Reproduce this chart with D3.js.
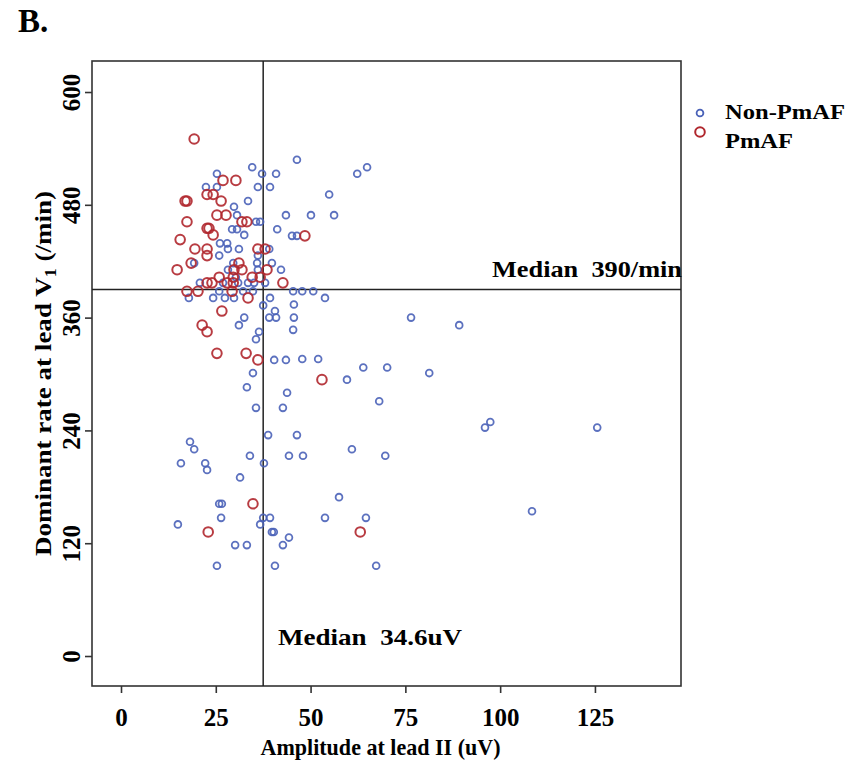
<!DOCTYPE html>
<meta charset="utf-8">
<style>
body { margin: 0; background: #fff; }
text { font-family: "Liberation Serif", "Times New Roman", serif; font-weight: bold; fill: #000; }
.frame { fill: none; stroke: #333; stroke-width: 1.6px; }
.median { stroke: #222; stroke-width: 1.5px; }
</style>
<svg width="866" height="761"></svg>
<script src="https://cdnjs.cloudflare.com/ajax/libs/d3/7.8.5/d3.min.js"></script>
<script>

// Non-PmAF: [amplitude uV, dominant rate /min]
var nonPmAF = [
  [46.4,528],[34.6,520],[64.9,520],[37.2,513],[40.9,513],[25.3,513],[62.3,513],
  [36.1,499],[39.3,499],[22.4,499],[25.3,499],[54.9,491],[33.5,484],[29.8,478],
  [30.6,469],[43.5,469],[50.1,469],[56.2,469],[35.6,462],[36.7,462],
  [29.3,454],[30.6,454],[41.2,454],[32.5,448],[45.1,447],[46.4,447],
  [26.1,439],[28.0,439],[28.2,433],[31.1,433],[39.1,433],[25.9,426],[36.1,426],
  [19.3,418],[29.6,418],[39.8,418],[35.9,418],[28.2,411],[42.2,411],[36.1,411],
  [20.8,397],[30.3,403],[26.9,397],[30.9,397],[33.5,397],[35.1,397],[38.0,397],
  [17.9,381],[24.3,381],[25.9,388],[27.4,381],[29.8,381],[32.2,388],[34.8,388],
  [39.3,381],[45.4,388],[47.8,388],[50.7,388],[53.8,381],
  [37.5,373],[45.6,374],[40.6,367],[39.1,360],[40.9,360],[32.5,360],[45.6,360],
  [76.5,360],[31.1,352],[89.2,352],[45.4,347],[36.4,345],[35.6,337],
  [40.4,315],[43.5,315],[47.8,316],[52.0,316],[63.9,307],[70.2,307],[34.8,301],
  [81.3,301],[59.6,294],[33.2,286],[43.8,280],[68.1,271],[35.6,264],[42.7,264],
  [97.4,249],[96.0,243],[125.6,243],[38.8,235],[46.4,235],[18.2,228],[19.3,220],
  [60.9,220],[34.0,213],[44.3,213],[48.0,213],[69.7,213],[15.8,205],[22.2,205],
  [37.7,205],[22.7,198],[31.4,190],[57.5,169],[25.9,162],[26.6,162],[108.4,154],
  [26.4,147],[37.5,147],[39.3,147],[53.8,147],[64.6,147],[15.0,140],[36.7,140],
  [39.8,132],[40.3,132],[44.3,126],[30.1,118],[33.2,118],[42.7,118],
  [25.3,96],[40.6,96],[67.3,96]
];

// PmAF
var pmAF = [
  [19.3,550],[26.9,506],[30.3,506],[22.7,491],[24.3,491],[17.4,484],[16.9,484],
  [26.4,484],[25.3,469],[27.7,469],[17.4,462],[31.9,462],[33.2,462],[22.7,455],
  [23.2,455],[24.3,448],[48.5,447],[15.6,443],[19.5,433],[22.7,433],[36.1,433],
  [38.0,433],[22.7,426],[18.5,418],[31.1,418],[14.8,411],[29.8,411],[31.9,411],
  [38.5,411],[25.9,403],[29.6,403],[34.6,403],[36.7,403],[22.7,397],[24.0,397],
  [28.0,397],[29.6,397],[42.7,397],[17.4,388],[20.3,388],[29.3,388],[33.5,381],
  [26.6,367],[21.4,352],[22.7,345],[25.3,322],[33.0,322],[36.1,315],[53.0,294],
  [34.8,162],[23.0,132],[63.1,132]
];

var xTicks = [0, 25, 50, 75, 100, 125];
var yTicks = [0, 120, 240, 360, 480, 600];
var medianAmp = 37.5;   // where the vertical line sits
var medianRate = 390;
var medianAmpLabel = "Median  34.6uV";
var medianRateLabel = "Median  390/min";
var seriesNames = ["Non-PmAF", "PmAF"];
var seriesColors = ["#4a62b8", "#b0272d"];

var svg = d3.select("svg");

// plot box (window.top is read-only, so own names)
var pL = 92, pR = 681, pT = 61, pB = 686;

var x = d3.scaleLinear().domain([-7.65, 147.7]).range([pL, pR]);
var y = d3.scaleLinear().domain([-31.9, 633]).range([pB, pT]);

// axes
var xAxis = svg.append("g")
  .attr("transform", "translate(0," + pB + ")")
  .call(d3.axisBottom(x).tickValues(xTicks).tickSize(7).tickPadding(14));
var yAxis = svg.append("g")
  .attr("transform", "translate(" + pL + ",0)")
  .call(d3.axisLeft(y).tickValues(yTicks).tickSize(7));

[xAxis, yAxis].forEach(function(a) {
  a.select(".domain").remove();
  a.selectAll("line").attr("stroke", "#333").attr("stroke-width", 1.6);
  a.selectAll("text").attr("font-size", "25px")
    .attr("font-family", "Liberation Serif").attr("font-weight", "bold").attr("fill", "#000");
});
xAxis.selectAll("text").attr("dy", "0.75em");
yAxis.selectAll("text")
  .attr("text-anchor", "middle")
  .attr("x", null).attr("dy", null)
  .attr("transform", "translate(-12,0) rotate(-90)");

svg.append("rect").attr("class", "frame")
  .attr("x", pL).attr("y", pT)
  .attr("width", pR - pL).attr("height", pB - pT);

// median lines
svg.append("line").attr("class", "median")
  .attr("x1", x(medianAmp)).attr("x2", x(medianAmp))
  .attr("y1", pT).attr("y2", pB);
svg.append("line").attr("class", "median")
  .attr("x1", pL).attr("x2", pR)
  .attr("y1", y(medianRate)).attr("y2", y(medianRate));

// points
svg.append("g").selectAll("circle")
  .data(nonPmAF).enter().append("circle")
  .attr("cx", function(d) { return x(d[0]); })
  .attr("cy", function(d) { return y(d[1]); })
  .attr("r", 3.4)
  .attr("fill", "none")
  .attr("stroke", seriesColors[0])
  .attr("stroke-opacity", 0.9)
  .attr("stroke-width", 1.8);

svg.append("g").selectAll("circle")
  .data(pmAF).enter().append("circle")
  .attr("cx", function(d) { return x(d[0]); })
  .attr("cy", function(d) { return y(d[1]); })
  .attr("r", 4.8)
  .attr("fill", "none")
  .attr("stroke", seriesColors[1])
  .attr("stroke-opacity", 0.9)
  .attr("stroke-width", 2);

// median labels
svg.append("text").attr("x", 492).attr("y", 277)
  .attr("font-size", "23px").attr("textLength", 190).attr("lengthAdjust", "spacingAndGlyphs")
  .attr("xml:space", "preserve").text(medianRateLabel);
svg.append("text").attr("x", 278).attr("y", 645)
  .attr("font-size", "23px").attr("textLength", 184).attr("lengthAdjust", "spacingAndGlyphs")
  .attr("xml:space", "preserve").text(medianAmpLabel);

// legend
var legend = svg.append("g");
legend.selectAll("circle").data(seriesNames).enter().append("circle")
  .attr("cx", 700)
  .attr("cy", function(d, i) { return 113 + i * 19; })
  .attr("r", function(d, i) { return i ? 4.8 : 3.4; })
  .attr("fill", "none")
  .attr("stroke", function(d, i) { return seriesColors[i]; })
  .attr("stroke-width", function(d, i) { return i ? 2 : 1.8; });
legend.selectAll("text").data(seriesNames).enter().append("text")
  .attr("x", 725)
  .attr("y", function(d, i) { return 119 + i * 29; })
  .attr("font-size", "22px")
  .attr("textLength", function(d, i) { return i ? 68 : 120; })
  .attr("lengthAdjust", "spacingAndGlyphs")
  .text(function(d) { return d; });

// titles
svg.append("text").attr("x", 18).attr("y", 32)
  .attr("font-size", "33px").text("B.");

svg.append("text")
  .attr("x", (pL + pR) / 2 - 6).attr("y", 755)
  .attr("text-anchor", "middle")
  .attr("font-size", "24px")
  .attr("textLength", 240).attr("lengthAdjust", "spacingAndGlyphs")
  .text("Amplitude at lead II (uV)");

var yt = svg.append("text")
  .attr("transform", "translate(51," + ((pT + pB) / 2) + ") rotate(-90)")
  .attr("text-anchor", "middle")
  .attr("font-size", "24px")
  .attr("textLength", 365).attr("lengthAdjust", "spacingAndGlyphs");
yt.append("tspan").text("Dominant rate at lead V");
yt.append("tspan").attr("font-size", "16px").attr("dy", 5).text("1");
yt.append("tspan").attr("dy", -5).text(" (/min)");

</script>
